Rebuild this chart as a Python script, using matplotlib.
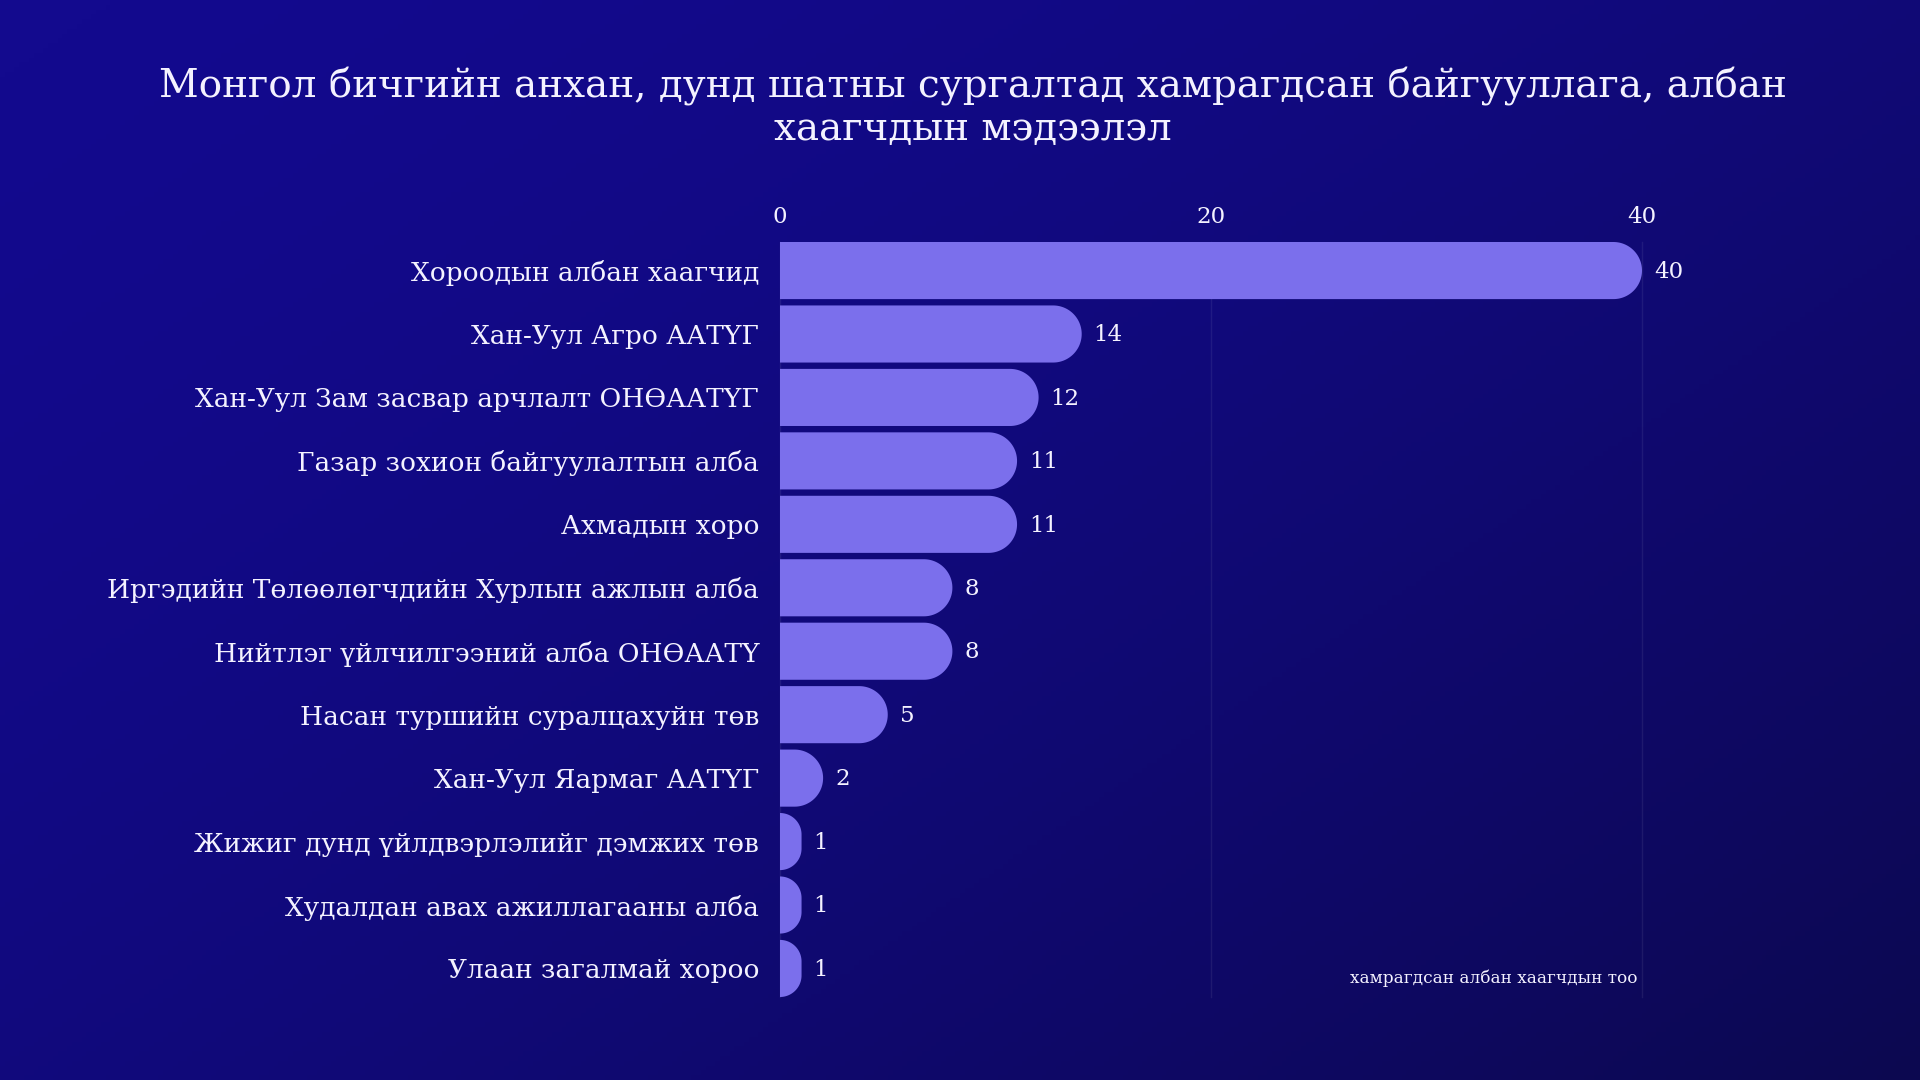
import numpy as np
import matplotlib
matplotlib.use("Agg")
import matplotlib.pyplot as plt
from matplotlib.patches import Polygon
from matplotlib.colors import LinearSegmentedColormap

plt.rcParams['font.family'] = ['DejaVu Serif']

# data
categories = [
    "Хороодын албан хаагчид",
    "Хан-Уул Агро ААТҮГ",
    "Хан-Уул Зам засвар арчлалт ОНӨААТҮГ",
    "Газар зохион байгуулалтын алба",
    "Ахмадын хоро",
    "Иргэдийн Төлөөлөгчдийн Хурлын ажлын алба",
    "Нийтлэг үйлчилгээний алба ОНӨААТҮ",
    "Насан туршийн суралцахуйн төв",
    "Хан-Уул Яармаг ААТҮГ",
    "Жижиг дунд үйлдвэрлэлийг дэмжих төв",
    "Худалдан авах ажиллагааны алба",
    "Улаан загалмай хороо",
]
values = [40, 14, 12, 11, 11, 8, 8, 5, 2, 1, 1, 1]
xticks = [0, 20, 40]

title = "Монгол бичгийн анхан, дунд шатны сургалтад хамрагдсан байгууллага, албан\nхаагчдын мэдээлэл"
xlabel = "хамрагдсан албан хаагчдын тоо"

bar_color = "#7b6fec"
text_color = "#f4f2ff"

fig = plt.figure(figsize=(19.2, 10.8), dpi=100)

# gradient background
bg = fig.add_axes([0, 0, 1, 1], zorder=-10)
cmap = LinearSegmentedColormap.from_list("bg", ["#130a8e", "#0c0850"])
gx, gy = np.meshgrid(np.linspace(0, 1, 400), np.linspace(0, 1, 225))
grad = gx * 0.55 + gy * 0.45
grad = (grad - grad.min()) / (grad.max() - grad.min())
bg.imshow(grad ** 1.6, cmap=cmap, aspect="auto", extent=[0, 1, 0, 1], origin="upper")
bg.axis("off")

ax = fig.add_axes([780 / 1920, 1 - 997 / 1080, 862 / 1920, 755 / 1080])
ax.patch.set_alpha(0)
n = len(categories)
h = 0.9
ax.set_xlim(0, 40)
ax.set_ylim(n - 1 + h / 2, -h / 2)

# rounded bars (right end only)
sx = ax.transData.transform((1, 0))[0] - ax.transData.transform((0, 0))[0]
sy = abs(ax.transData.transform((0, 1))[1] - ax.transData.transform((0, 0))[1])
for i, v in enumerate(values):
    r = min(h * sy / 2, v * sx)
    rx, ry = r / sx, r / sy
    top, bot = i - h / 2, i + h / 2
    cx = v - rx
    t1 = np.linspace(-np.pi / 2, 0, 30)
    t2 = np.linspace(0, np.pi / 2, 30)
    c1 = np.column_stack([cx + rx * np.cos(t1), top + ry + ry * np.sin(t1)])
    c2 = np.column_stack([cx + rx * np.cos(t2), bot - ry + ry * np.sin(t2)])
    verts = np.vstack([[[0, top]], c1, c2, [[0, bot]]])
    ax.add_patch(Polygon(verts, closed=True, facecolor=bar_color, edgecolor="none", zorder=3))
    ax.text(v + 0.55, i + 0.02, str(v), ha="left", va="center", color=text_color,
            fontsize=16.5, zorder=4)

ax.set_yticks(range(n))
ax.set_yticklabels(categories, fontsize=19, color=text_color)
ax.xaxis.tick_top()
ax.set_xticks(xticks)
ax.set_xticklabels([str(t) for t in xticks], fontsize=16.5, color=text_color)
ax.tick_params(axis="both", length=0)
ax.tick_params(axis="y", pad=15)
ax.tick_params(axis="x", pad=10)
ax.grid(axis="x", color="white", alpha=0.07, lw=1, zorder=0)
for gl in ax.get_xgridlines():
    gl.set_clip_on(False)
for s in ax.spines.values():
    s.set_visible(False)

ax.text(39.8, n - 1 + 0.15, xlabel, ha="right", va="center", color=text_color, fontsize=12.2)

fig.text(973 / 1920, 1 - 107.5 / 1080, title, ha="center", va="center", color=text_color,
         fontsize=28, linespacing=1.17)

fig.savefig("out.png", dpi=100)
